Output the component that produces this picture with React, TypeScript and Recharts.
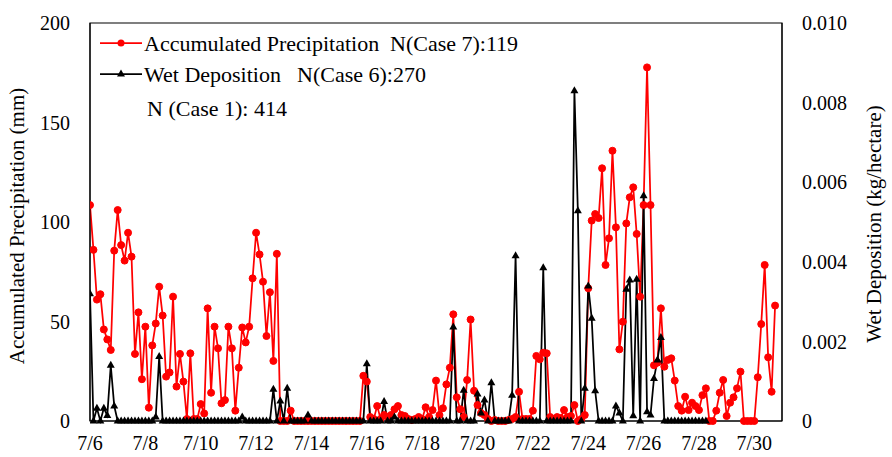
import React from "react";
import {
  LineChart,
  Line,
  XAxis,
  YAxis,
  ReferenceArea,
} from "recharts";

// 3-hourly values starting 7/6 00:00
const precipitation = [
  108.5, 86, 61, 63.7, 46, 41, 35.7, 85.6, 106, 88.4,
  80.6, 94.6, 82.6, 33.7, 54.6, 21, 47.4, 6.7, 38, 49,
  67.5, 53, 22.3, 24.4, 62.5, 17.3, 33.7, 19.8, 1, 34,
  1, 1, 8.5, 3.8, 56.6, 14.2, 47.4, 36.5, 8.9, 10.5,
  47.4, 36.5, 5.2, 26.8, 47, 39.5, 47.4, 71.7, 94.6, 83.7,
  70, 42.7, 64.7, 30.2, 84, 0, 0, 0, 5.2, 0,
  0, 0, 0, 0, 0, 0, 0, 0, 0, 0,
  0, 0, 0, 0, 0, 0, 0, 0, 0, 22.7,
  19.8, 2, 1, 7.5, 1, 3, 2, 3, 5.9, 7.5,
  3, 2.5, 1, 0.5, 1, 2, 1, 6.9, 2, 5.5,
  20.3, 3, 6.4, 18.4, 26.8, 53.6, 11.9, 5.9, 2, 20.6,
  51, 15.2, 8, 4, 3, 1, 0, 0.5, 0, 0,
  0, 0.5, 1, 2, 14.7, 1, 1, 1, 5.2, 32.7,
  31, 34.3, 34, 2, 1, 2, 1.5, 5.5, 2, 2.5,
  8, 0, 1, 3, 66.7, 100.7, 104, 102, 127, 78.4,
  91.8, 135.8, 97.3, 36, 49.9, 99.3, 112.4, 117.4, 94, 62.5,
  108.5, 177.7, 108.5, 28, 29.3, 56.6, 27.3, 30.7, 31.5, 20.3,
  7.5, 5.2, 12.2, 5.5, 9.2, 7.5, 5.5, 13, 16.4, 0,
  0, 5.2, 14.2, 20.6, 2.5, 9.2, 11.9, 16.4, 24.8, 0,
  0, 0, 0, 22, 48.7, 78.4, 32, 14.7, 58,
];

const wetDeposition = [
  0.0032, 0, 0.00032, 0, 0.00032, 0.00014, 0.0014, 0.00038, 0, 0,
  0, 0, 0, 0, 0, 0, 0, 0, 0, 0.0001,
  0.00162, 0, 0, 0, 0, 0, 0, 0, 0, 0,
  0, 0, 0, 0, 0, 0, 0, 0, 0, 0,
  0, 0, 0, 0, 0.0001, 0, 0, 0, 0, 0,
  0, 0, 0, 0.0008, 0, 0.0005, 0, 0.00082, 0, 0,
  0, 0, 0, 0.00015, 0, 0, 0, 0, 0, 0,
  0, 0, 0, 0, 0, 0, 0, 0, 0, 0,
  0.00144, 0, 0, 0, 0, 0.00049, 0, 0, 0.0001, 0,
  0, 0, 0, 0, 0, 0, 0, 0, 0, 0,
  0, 0, 0, 0, 0, 0.00236, 0, 0, 0.00077, 0,
  0, 0, 0.00068, 0.0002, 0.00053, 0, 0.00096, 0, 0, 0,
  0, 0, 0.00065, 0.00415, 0, 0, 0, 0, 0, 0,
  0, 0.00385, 0, 0, 0, 0, 0, 0, 0, 0,
  0.0083, 0.00528, 0, 0.00082, 0.00339, 0.00258, 0.00076, 0, 0, 0,
  0, 0, 0.00038, 0.0002, 0, 0.00331, 0.00354, 0.00013, 0.00356, 0,
  0.00566, 0.00023, 0.00015, 0.00107, 0.00153, 0.0021, 0, 0, 0, 0,
  0, 0, 0, 0, 0, 0, 0, 0, 0,
];

const tickDays = [0, 2, 4, 6, 8, 10, 12, 14, 16, 18, 20, 22, 24];
const leftTicks = [0, 50, 100, 150, 200];
const rightTicks = [0, 0.002, 0.004, 0.006, 0.008, 0.01];

const rows = precipitation.map((p, i) => ({
  t: i / 8,
  precip: p,
  wet: i < wetDeposition.length ? wetDeposition[i] : null,
}));

const FONT = "Liberation Serif, DejaVu Serif, serif";

function Triangle(props: any) {
  const { cx, cy, index } = props;
  if (cx == null || cy == null) return <g key={`tri-${index}`} />;
  return (
    <path
      key={`tri-${index}`}
      d={`M${cx},${cy - 4.5}L${cx + 4},${cy + 2.5}L${cx - 4},${cy + 2.5}Z`}
      fill="#000"
    />
  );
}

export default function App() {
  const tickStyle = { fill: "#000", fontSize: 20, fontFamily: FONT };
  return (
    <div
      style={{
        position: "absolute",
        left: 0,
        top: 0,
        width: 892,
        height: 457,
        background: "#fff",
        fontFamily: FONT,
      }}
    >
      <LineChart
        width={892}
        height={457}
        data={rows}
        margin={{ top: 23, right: 0, bottom: 0, left: 0 }}
        style={{ fontFamily: FONT }}
      >
        <XAxis
          dataKey="t"
          type="number"
          domain={[0, 25]}
          ticks={tickDays}
          tickFormatter={(d: number) => `7/${6 + d}`}
          tick={tickStyle}
          tickLine={false}
          tickSize={0}
          tickMargin={15}
          height={36}
          axisLine={{ stroke: "#000" }}
          allowDataOverflow
        />
        <YAxis
          yAxisId="left"
          domain={[0, 200]}
          ticks={leftTicks}
          tick={tickStyle}
          tickLine={false}
          tickSize={0}
          tickMargin={20}
          width={90}
          axisLine={{ stroke: "#000" }}
        />
        <YAxis
          yAxisId="right"
          orientation="right"
          domain={[0, 0.01]}
          ticks={rightTicks}
          tickFormatter={(v: number) => (v === 0 ? "0" : v.toFixed(3))}
          tick={tickStyle}
          tickLine={false}
          tickSize={0}
          tickMargin={20}
          width={110}
          axisLine={{ stroke: "#000" }}
        />
        <ReferenceArea
          yAxisId="left"
          x1={0}
          x2={25}
          y1={0}
          y2={200}
          fill="none"
          stroke="#000"
          strokeWidth={1.2}
          fillOpacity={0}
        />
        <Line
          yAxisId="left"
          dataKey="precip"
          type="linear"
          stroke="#ff0000"
          strokeWidth={1.75}
          dot={{ r: 3.5, fill: "#ff0000", stroke: "#ff0000", strokeWidth: 1 }}
          activeDot={false}
          isAnimationActive={false}
        />
        <Line
          yAxisId="right"
          dataKey="wet"
          type="linear"
          stroke="#000"
          strokeWidth={1.75}
          dot={Triangle}
          activeDot={false}
          isAnimationActive={false}
        />
      </LineChart>
      <svg
        width={892}
        height={457}
        style={{ position: "absolute", left: 0, top: 0, pointerEvents: "none", fontFamily: FONT }}
      >
        <text
          transform="translate(24,226) rotate(-90)"
          textAnchor="middle"
          fontSize={21}
          fill="#000"
        >
          Accumulated Precipitation (mm)
        </text>
        <text
          transform="translate(881,224) rotate(-90)"
          textAnchor="middle"
          fontSize={21}
          fill="#000"
        >
          Wet Deposition (kg/hectare)
        </text>
        <line x1={100} y1={43} x2={142} y2={43} stroke="#ff0000" strokeWidth={1.75} />
        <circle cx={121} cy={43} r={3.5} fill="#ff0000" />
        <text x={144} y={51} fontSize={22} fill="#000">
          Accumulated Precipitation
        </text>
        <text x={390} y={51} fontSize={22} fill="#000">
          N(Case 7):119
        </text>
        <line x1={100} y1={74} x2={142} y2={74} stroke="#000" strokeWidth={1.75} />
        <path d="M121,69.5L125,76.5L117,76.5Z" fill="#000" />
        <text x={144} y={82} fontSize={22} fill="#000">
          Wet Deposition
        </text>
        <text x={297} y={82} fontSize={22} fill="#000">
          N(Case 6):270
        </text>
        <text x={147} y={116} fontSize={22} fill="#000">
          N (Case 1): 414
        </text>
      </svg>
    </div>
  );
}
